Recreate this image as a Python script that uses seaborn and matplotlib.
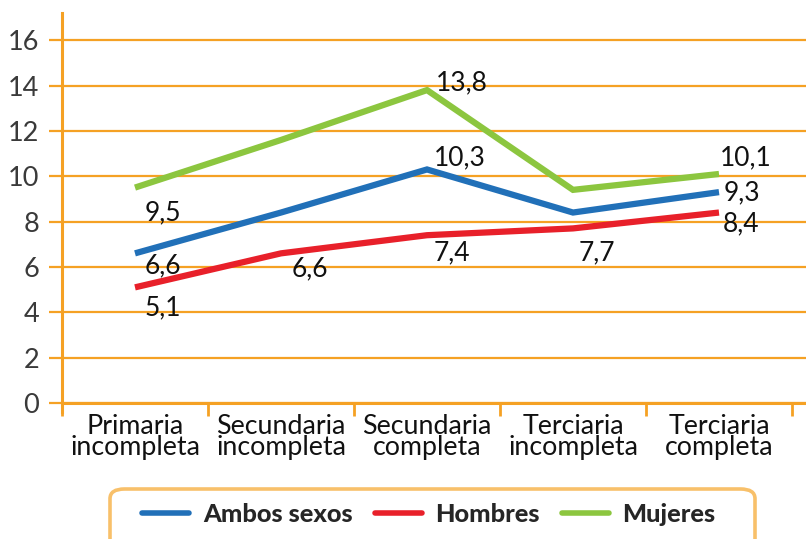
import matplotlib
matplotlib.use("Agg")
import matplotlib.pyplot as plt
from matplotlib.patches import FancyBboxPatch
from matplotlib.lines import Line2D
import seaborn as sns
import pandas as pd
import numpy as np

categorias = ["Primaria\nincompleta", "Secundaria\nincompleta", "Secundaria\ncompleta",
              "Terciaria\nincompleta", "Terciaria\ncompleta"]
series = ["Ambos sexos", "Hombres", "Mujeres"]
ambos = [6.6, 8.4, 10.3, 8.4, 9.3]
hombres = [5.1, 6.6, 7.4, 7.7, 8.4]
mujeres = [9.5, 11.6, 13.8, 9.4, 10.1]
yticks = [0, 2, 4, 6, 8, 10, 12, 14, 16]

colores = {"Ambos sexos": "#2170B8", "Hombres": "#E8202A", "Mujeres": "#8CC63F"}
naranja = "#F5A124"

df = pd.DataFrame({
    "cat": categorias * 3,
    "serie": [s for s in series for _ in categorias],
    "valor": ambos + hombres + mujeres,
})

sns.set_theme(style="white")
plt.rcParams["font.family"] = ["Lato", "DejaVu Sans"]

fig = plt.figure(figsize=(8.06, 5.39), dpi=100)
W, H = 806, 539
ax = fig.add_axes([62 / W, 1 - 403 / H, (806 - 62) / W, (403 - 13) / H])

sns.lineplot(data=df, x="cat", y="valor", hue="serie", palette=colores,
             hue_order=series, sort=False, linewidth=4.5, ax=ax, legend=False)
for ln in ax.lines:
    ln.set_solid_capstyle("butt")
    ln.set_solid_joinstyle("miter")

ax.set_xlim(-0.5, -0.5 + (806 - 62) / 146)
ax.set_ylim(0, 17.2)
ax.set_xlabel("")
ax.set_ylabel("")

# grid
ax.set_yticks(yticks)
ax.yaxis.grid(True, color=naranja, linewidth=1.6)
ax.xaxis.grid(False)
ax.set_axisbelow(True)
ax.tick_params(axis="y", which="major", length=9.4, width=1.6, color=naranja,
               direction="out", pad=7, labelsize=19.5, labelcolor="#3a3a3a", left=True)

# x ticks
ax.set_xticks(range(len(categorias)))
ax.set_xticklabels(categorias, fontsize=19.3, color="#111111", linespacing=0.8)
ax.set_xticks(np.arange(-0.5, len(categorias), 1.0), minor=True)
ax.tick_params(axis="x", which="major", length=0, pad=8)
ax.tick_params(axis="x", which="minor", length=9, width=2, color=naranja,
               direction="out", bottom=True)

for s in ["top", "right"]:
    ax.spines[s].set_visible(False)
ax.spines["left"].set_color(naranja)
ax.spines["left"].set_linewidth(2.2)
ax.spines["bottom"].set_color(naranja)
ax.spines["bottom"].set_linewidth(2.2)
ax.spines["left"].set_bounds(-0.4, 17.2)

# value labels: (serie, index) -> offset in pixels
offsets = {
    ("Mujeres", 0): (28, -25), ("Ambos sexos", 0): (28, -12), ("Hombres", 0): (28, -20),
    ("Hombres", 1): (29, -15),
    ("Mujeres", 2): (35, 7), ("Ambos sexos", 2): (33, 12), ("Hombres", 2): (25, -18),
    ("Hombres", 3): (24, -24),
    ("Mujeres", 4): (27, 16), ("Ambos sexos", 4): (23, -1), ("Hombres", 4): (22, -11),
}
valores = {"Ambos sexos": ambos, "Hombres": hombres, "Mujeres": mujeres}
for (s, i), (dx, dy) in offsets.items():
    v = valores[s][i]
    ax.annotate(f"{v:.1f}".replace(".", ","), xy=(i, v), xytext=(dx, dy),
                textcoords="offset pixels", ha="center", va="center",
                fontsize=19, color="#111111")

# legend box
box = FancyBboxPatch((110 / W, -40 / H), (755 - 110) / W, (539 + 40 - 489) / H,
                     boxstyle="round,pad=0,rounding_size=0.018",
                     transform=fig.transFigure, facecolor="white",
                     edgecolor="#F8C06A", linewidth=2.6)
fig.patches.append(box)
handles = [Line2D([0], [0], color=colores[s], linewidth=4) for s in series]
leg = fig.legend(handles, series, loc="center", bbox_to_anchor=(429 / W, 1 - 514 / H),
                 ncol=3, frameon=False, handlelength=1.85, handletextpad=0.55,
                 columnspacing=0.85, prop={"family": "Lato", "weight": "black", "size": 18.3})

fig.savefig("out.png", dpi=100)
